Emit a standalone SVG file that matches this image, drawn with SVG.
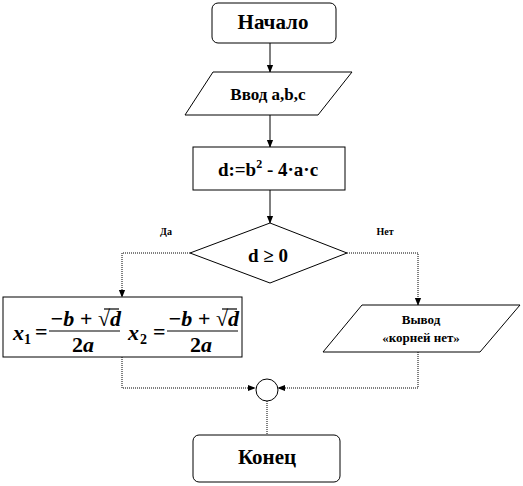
<svg xmlns="http://www.w3.org/2000/svg" width="523" height="486" viewBox="0 0 523 486">
<defs>
<marker id="ah" viewBox="0 0 10 10" refX="9" refY="5" markerWidth="8" markerHeight="8" orient="auto" markerUnits="userSpaceOnUse"><path d="M0,1 L10,5 L0,9 Z" fill="#000"/></marker>
</defs>
<style>
.sh{fill:#fff;stroke:#000;stroke-width:1}
.c{fill:none;stroke:#000;stroke-width:1}
.d{fill:none;stroke:#000;stroke-width:1;stroke-dasharray:1 1}
</style>
<rect width="523" height="486" fill="#fff"/>
<g id="connectors">
<line class="c" x1="270" y1="43" x2="270" y2="72" marker-end="url(#ah)"/>
<line class="c" x1="270" y1="115" x2="270" y2="147" marker-end="url(#ah)"/>
<line class="c" x1="270" y1="190" x2="270" y2="223" marker-end="url(#ah)"/>
<polyline class="d" points="190,253 122,253 122,297" marker-end="url(#ah)"/>
<polyline class="d" points="347,253 418,253 418,305" marker-end="url(#ah)"/>
<polyline class="d" points="122,357 122,388 255,388" marker-end="url(#ah)"/>
<polyline class="d" points="418,352 418,388 278,388" marker-end="url(#ah)"/>
<line class="d" x1="267" y1="401" x2="267" y2="435"/>
</g>
<g id="start">
<rect class="sh" x="212" y="3" width="124" height="40" rx="6"/>
<text x="273" y="29" font-size="21" font-weight="bold" text-anchor="middle" font-family="Liberation Serif" style="font-family:'Liberation Serif',serif">Начало</text>
</g>
<g id="input">
<polygon class="sh" points="213,72 352,72 318,115 185,115"/>
<text x="268" y="100" font-size="17" font-weight="bold" text-anchor="middle" font-family="Liberation Serif" style="font-family:'Liberation Serif',serif">Ввод a,b,c</text>
</g>
<g id="calc">
<rect class="sh" x="193" y="147" width="152" height="43"/>
<text x="268" y="176" font-size="19" font-weight="bold" text-anchor="middle" font-family="Liberation Serif" style="font-family:'Liberation Serif',serif">d:=b<tspan dy="-8" font-size="12">2</tspan><tspan dy="8"> - 4·a·c</tspan></text>
</g>
<g id="cond">
<polygon class="sh" points="270,223 347,253 270,283 190,253"/>
<text x="268" y="262" font-size="19" font-weight="bold" text-anchor="middle" font-family="Liberation Serif" style="font-family:'Liberation Serif',serif">d ≥ 0</text>
</g>
<text x="166" y="235" font-size="10" font-weight="bold" text-anchor="middle" font-family="Liberation Serif" style="font-family:'Liberation Serif',serif">Да</text>
<text x="385" y="235" font-size="10" font-weight="bold" text-anchor="middle" font-family="Liberation Serif" style="font-family:'Liberation Serif',serif">Нет</text>
<g id="roots">
<rect class="sh" x="3" y="297" width="239" height="60"/>
<text x="13" y="340" font-size="22" font-weight="bold" font-style="italic" font-family="Liberation Serif" style="font-family:'Liberation Serif',serif">x</text>
<text x="24" y="344" font-size="14" font-weight="bold" font-family="Liberation Serif" style="font-family:'Liberation Serif',serif">1</text>
<text x="35" y="339" font-size="22" font-weight="bold" font-family="Liberation Serif" style="font-family:'Liberation Serif',serif">=</text>
<text x="50" y="326" font-size="22" font-weight="bold" font-style="italic" font-family="Liberation Serif" style="font-family:'Liberation Serif',serif">−b + √d</text>
<line x1="104" y1="309" x2="119" y2="309" stroke="#000" stroke-width="1.2"/>
<line x1="49" y1="331" x2="120" y2="331" stroke="#000" stroke-width="1.2"/>
<text x="72" y="352" font-size="22" font-weight="bold" font-family="Liberation Serif" style="font-family:'Liberation Serif',serif">2<tspan font-style="italic">a</tspan></text>
<text x="128" y="340" font-size="22" font-weight="bold" font-style="italic" font-family="Liberation Serif" style="font-family:'Liberation Serif',serif">x</text>
<text x="140" y="344" font-size="14" font-weight="bold" font-family="Liberation Serif" style="font-family:'Liberation Serif',serif">2</text>
<text x="153" y="339" font-size="22" font-weight="bold" font-family="Liberation Serif" style="font-family:'Liberation Serif',serif">=</text>
<text x="168" y="326" font-size="22" font-weight="bold" font-style="italic" font-family="Liberation Serif" style="font-family:'Liberation Serif',serif">−b + √d</text>
<line x1="222" y1="309" x2="237" y2="309" stroke="#000" stroke-width="1.2"/>
<line x1="167" y1="331" x2="238" y2="331" stroke="#000" stroke-width="1.2"/>
<text x="190" y="352" font-size="22" font-weight="bold" font-family="Liberation Serif" style="font-family:'Liberation Serif',serif">2<tspan font-style="italic">a</tspan></text>
</g>
<g id="output">
<polygon class="sh" points="362,305 520,305 480,352 323,352"/>
<text x="421" y="324" font-size="13" font-weight="bold" text-anchor="middle" font-family="Liberation Serif" style="font-family:'Liberation Serif',serif">Вывод</text>
<text x="421" y="342" font-size="13" font-weight="bold" text-anchor="middle" font-family="Liberation Serif" style="font-family:'Liberation Serif',serif">«корней нет»</text>
</g>
<g id="join">
<circle class="sh" cx="267" cy="390" r="11"/>
</g>
<g id="end">
<rect class="sh" x="193" y="435" width="147" height="47" rx="6"/>
<text x="267" y="464" font-size="21" font-weight="bold" text-anchor="middle" font-family="Liberation Serif" style="font-family:'Liberation Serif',serif">Конец</text>
</g>
</svg>
